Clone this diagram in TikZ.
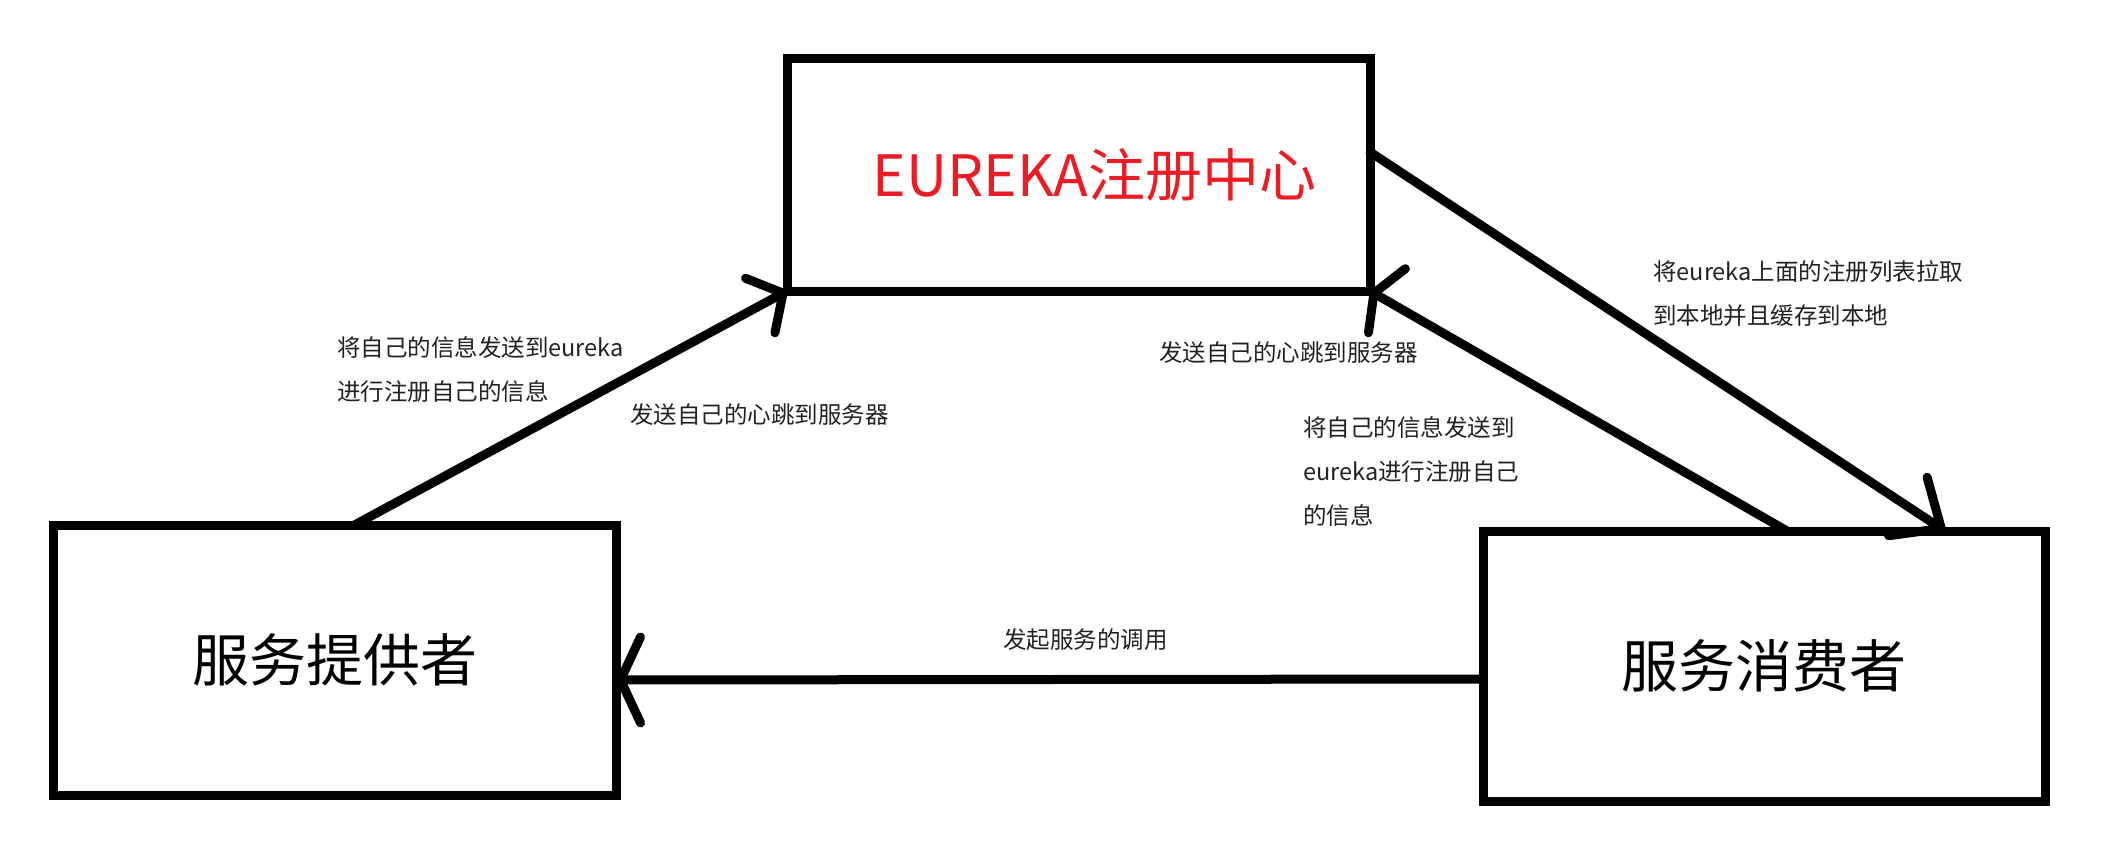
\documentclass[tikz,border=0pt]{standalone}
\usepackage{fontspec}
\setmainfont{Noto Sans CJK SC}
\usetikzlibrary{arrows.meta}
\definecolor{paintred}{RGB}{237,28,36}
\definecolor{labelgray}{RGB}{34,34,34}
\begin{document}
\begin{tikzpicture}[x=1pt,y=-1pt,
  box/.style={draw=black, line width=9pt, rectangle, inner sep=0pt, outer sep=0pt,
    font=\fontsize{57}{62}\selectfont},
  lbl/.style={anchor=west, inner sep=0pt, align=left, text=labelgray,
    font=\fontsize{23.5}{44}\selectfont},
  conn/.style={draw=black, line width=9pt, line cap=round},
  tipA/.style={-{Straight Barb[length=26pt,width=62pt,round]}},
  tipB/.style={-{Straight Barb[length=40pt,width=70pt,round]}},
  tipC/.style={-{Straight Barb[length=15pt,width=74pt,round]}},
  tipD/.style={-{Straight Barb[length=20pt,width=86pt,round]}}
]
\useasboundingbox (0,0) rectangle (2112,845);
\fill[white] (0,0) rectangle (2112,845);

\node[box, minimum width=583pt, minimum height=232pt, text=paintred] (eur) at (1078.5,175) {\hspace*{32pt}EUREKA注册中心};
\node[box, minimum width=563pt, minimum height=270pt] (prov) at (334.5,660) {服务提供者};
\node[box, minimum width=562pt, minimum height=270pt] (cons) at (1764,666) {服务消费者};

\draw[conn, tipA] ([xshift=20pt]prov.north) -- (eur.south west);
\draw[conn, tipB] ([yshift=23pt]eur.east) -- ([xshift=181pt]cons.north);
\draw[conn, tipC] ([xshift=23pt]cons.north) -- (eur.south east);
\draw[conn, tipD] ([yshift=-13pt]cons.west) -- ([yshift=-20pt]prov.east);

\node[lbl] (l1) at (337,370) {将自己的信息发送到eureka\\进行注册自己的信息};
\node[lbl] (l2) at (630,415) {发送自己的心跳到服务器};
\node[lbl] (l3) at (1159,353) {发送自己的心跳到服务器};
\node[lbl] (l4) at (1303,471) {将自己的信息发送到\\eureka进行注册自己\\的信息};
\node[lbl] (l5) at (1653,293.5) {将eureka上面的注册列表拉取\\到本地并且缓存到本地};
\node[lbl] (l6) at (1003,640) {发起服务的调用};
\end{tikzpicture}
\end{document}
